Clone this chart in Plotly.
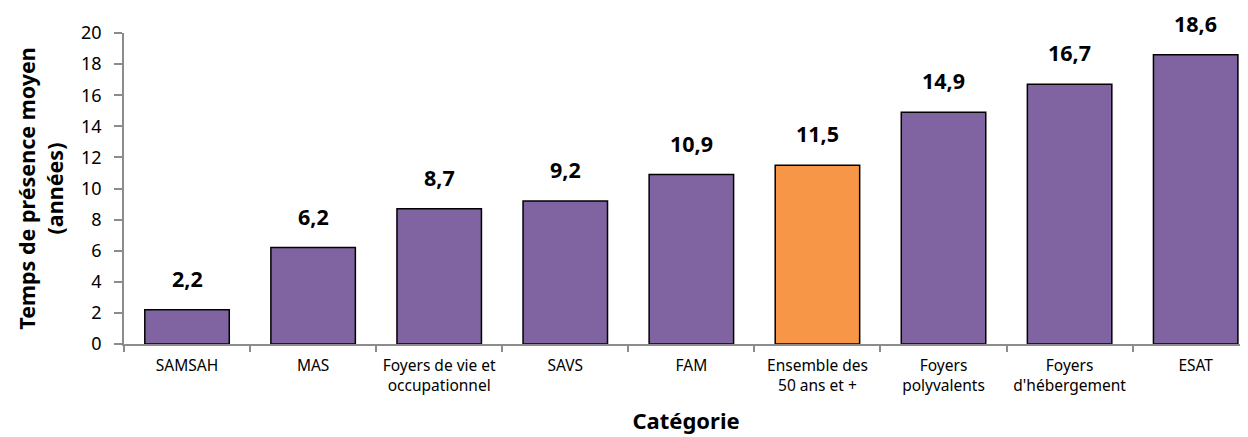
import plotly.graph_objects as go

categories = [
    "SAMSAH", "MAS", "Foyers de vie et<br>occupationnel", "SAVS", "FAM",
    "Ensemble des<br>50 ans et +", "Foyers<br>polyvalents", "Foyers<br>d'hébergement", "ESAT",
]
values = [2.2, 6.2, 8.7, 9.2, 10.9, 11.5, 14.9, 16.7, 18.6]
highlight = "Ensemble des<br>50 ans et +"

PURPLE = "#8064A2"
ORANGE = "#F79646"
FONT = "Noto Sans"

colors = [ORANGE if c == highlight else PURPLE for c in categories]

fig = go.Figure(
    go.Bar(
        x=categories,
        y=values,
        marker=dict(color=colors, line=dict(color="#000000", width=1.5)),
        hoverinfo="x+y",
    )
)

# value labels above each bar, with the comma as decimal separator
for c, v in zip(categories, values):
    fig.add_annotation(
        x=c, y=v, text=f"<b>{v:.1f}</b>".replace(".", ","),
        showarrow=False, yanchor="bottom", yshift=16, borderpad=0,
        font=dict(family=FONT, size=21.5, color="#000000"),
    )

# the page body keeps its default 8px margin, so the figure is 8px smaller
fig.update_layout(
    width=1240,
    height=429,
    margin=dict(l=116, r=0, t=25, b=93),
    plot_bgcolor="#ffffff",
    paper_bgcolor="#ffffff",
    bargap=0.33,
    showlegend=False,
    font=dict(family=FONT, color="#000000"),
    xaxis=dict(
        range=[-0.5, 8.415], automargin=False,
        showline=True, linecolor="#8c8c8c", linewidth=2,
        ticks="outside", tickson="boundaries", ticklen=6, tickcolor="#8c8c8c", tickwidth=1.5,
        tickfont=dict(size=15.5, family=FONT),
        ticklabelstandoff=6,
        title=dict(text="<b>Catégorie</b>", font=dict(size=22, family=FONT), standoff=19),
        showgrid=False,
    ),
    yaxis=dict(
        range=[0, 20], dtick=2, automargin=False,
        showline=True, linecolor="#8c8c8c", linewidth=1.5,
        ticks="outside", ticklen=8, tickcolor="#8c8c8c", tickwidth=1.5,
        tickfont=dict(size=18, family=FONT),
        ticklabelstandoff=9,
        title=dict(text="<b>Temps de présence moyen<br>(années)</b>", font=dict(size=21.5, family=FONT), standoff=12),
        showgrid=False, zeroline=False,
    ),
)

fig.write_html("out.html")
